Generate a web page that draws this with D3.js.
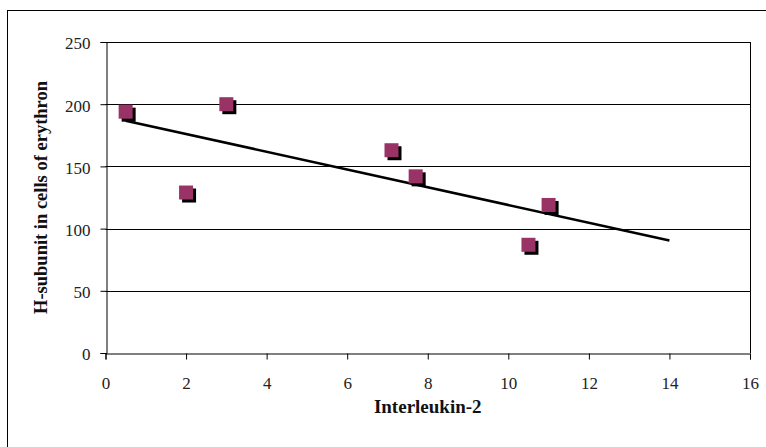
<!DOCTYPE html>
<html><head><meta charset="utf-8">
<script src="https://cdn.jsdelivr.net/npm/d3@7"></script>
<style>body{margin:0;background:#fff}svg{display:block}</style>
</head><body>
<svg id="c" width="766" height="447"></svg>
<script>
const xValues = [0.5, 2, 3, 7.1, 7.7, 10.5, 11];
const yValues = [194, 129, 200, 163, 142, 87, 119];
const xTicks = [0, 2, 4, 6, 8, 10, 12, 14, 16];
const yTicks = [0, 50, 100, 150, 200, 250];
const trendRange = [0.5, 14];
const xTitle = "Interleukin-2";
const yTitle = "H-subunit in cells of erythron";

const svg = d3.select("#c");
const m = {left: 105.5, top: 42, right: 750, bottom: 353};
const font = "'Liberation Serif', 'Times New Roman', serif";

svg.append("rect").attr("x", 7.5).attr("y", 10.5).attr("width", 800).attr("height", 500)
  .attr("fill", "#fff").attr("stroke", "#000").attr("stroke-width", 1);

const x = d3.scaleLinear().domain([0, 16]).range([m.left, m.right]);
const y = d3.scaleLinear().domain([0, 250]).range([m.bottom, m.top]);

// gridlines
svg.append("g").selectAll("line").data(yTicks.filter(d => d > 0)).join("line")
  .attr("x1", m.left).attr("x2", m.right)
  .attr("y1", d => Math.round(y(d)) + 0.5).attr("y2", d => Math.round(y(d)) + 0.5)
  .attr("stroke", "#000").attr("stroke-width", 1);
// right border
svg.append("line").attr("x1", m.right + 0.5).attr("x2", m.right + 0.5)
  .attr("y1", m.top).attr("y2", m.bottom).attr("stroke", "#000");

// axes
const xAxis = d3.axisBottom(x).tickValues(xTicks).tickSizeOuter(0).tickSize(6).tickPadding(17).tickFormat(d3.format("d"));
const gx = svg.append("g").attr("transform", `translate(0,${Math.round(y(0)) + 0.5})`).call(xAxis);
const yAxis = d3.axisLeft(y).tickValues(yTicks).tickSizeOuter(0).tickSize(6).tickPadding(10).tickFormat(d3.format("d"));
const gy = svg.append("g").attr("transform", `translate(${Math.round(m.left) + 0.5},0)`).call(yAxis);
[gx, gy].forEach(g => {
  g.select(".domain").attr("stroke", "#000").attr("stroke-width", 1);
  g.selectAll(".tick line").attr("stroke", "#000");
  g.selectAll(".tick text").attr("fill", "#222").style("font-family", font).style("font-size", "17px");
});
gx.selectAll(".tick text").attr("dy", "0.71em");
gy.selectAll(".tick text").attr("dy", "0.4em");

// trendline (least squares)
const n = xValues.length;
const mx = d3.mean(xValues), my = d3.mean(yValues);
let sxy = 0, sxx = 0;
for (let i = 0; i < n; i++) { sxy += (xValues[i] - mx) * (yValues[i] - my); sxx += (xValues[i] - mx) ** 2; }
const slope = sxy / sxx, icpt = my - slope * mx;
const trend = trendRange.map(v => [v, icpt + slope * v]);

const pts = xValues.map((v, i) => ({x: v, y: yValues[i]}));
const s = 14, off = 3;
// shadows
svg.append("g").selectAll("rect").data(pts).join("rect")
  .attr("x", d => x(d.x) - s / 2 + off).attr("y", d => y(d.y) - s / 2 + off)
  .attr("width", s).attr("height", s).attr("fill", "#000");

svg.append("path").datum(trend)
  .attr("d", d3.line().x(d => x(d[0])).y(d => y(d[1])))
  .attr("stroke", "#000").attr("stroke-width", 2.5).attr("fill", "none");

svg.append("g").selectAll("rect").data(pts).join("rect")
  .attr("x", d => x(d.x) - s / 2).attr("y", d => y(d.y) - s / 2)
  .attr("width", s).attr("height", s).attr("fill", "#993366");

// titles
svg.append("text").attr("x", (m.left + m.right) / 2).attr("y", 413)
  .attr("text-anchor", "middle").style("font-family", font).style("font-size", "19px")
  .style("font-weight", "bold").attr("fill", "#111").text(xTitle);
svg.append("text").attr("transform", `translate(47,${(m.top + m.bottom) / 2}) rotate(-90)`)
  .attr("text-anchor", "middle").style("font-family", font).style("font-size", "18.5px")
  .style("font-weight", "bold").attr("fill", "#111").text(yTitle);
</script>
</body></html>
